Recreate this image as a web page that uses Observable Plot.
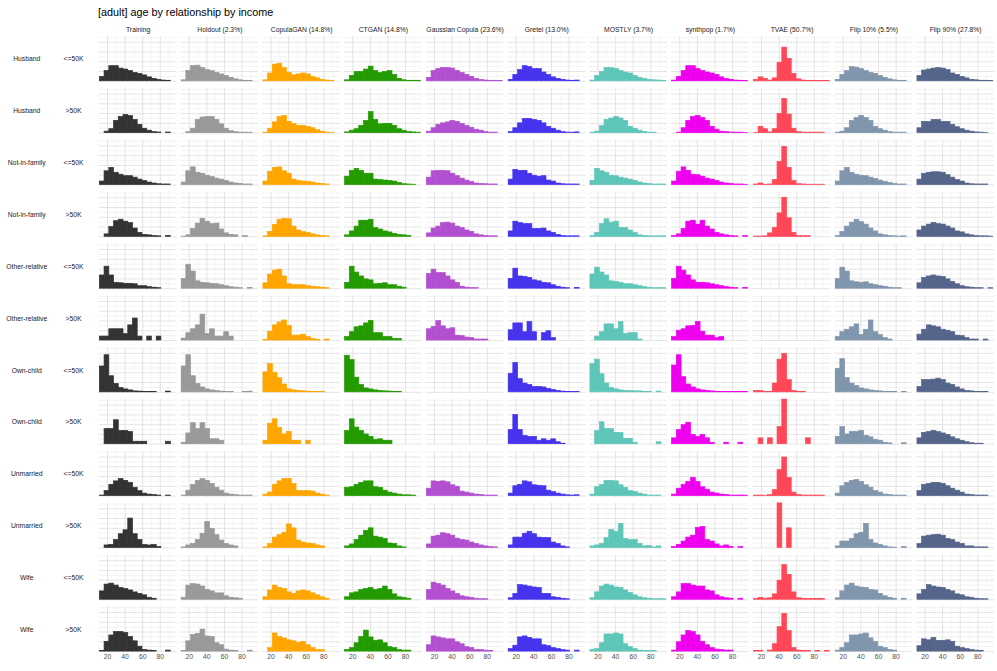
<!DOCTYPE html>
<html><head><meta charset="utf-8">
<script src="https://cdn.jsdelivr.net/npm/d3@7"></script>
<script src="https://cdn.jsdelivr.net/npm/@observablehq/plot@0.6"></script>
<style>
body{margin:0;background:#fff;overflow:hidden;font-family:"Liberation Sans",Arial,sans-serif;}
#wrap{position:relative;width:997px;height:671px;overflow:hidden;}
#title{position:absolute;left:98px;top:5px;font-size:10.8px;line-height:14px;color:#000;}
#chart{position:absolute;left:0;top:0;}
</style></head><body>
<div id="wrap"><div id="chart"></div><div id="title">[adult] age by relationship by income</div></div>
<script>
const models = ["Training","Holdout (2.3%)","CopulaGAN (14.8%)","CTGAN (14.8%)","Gaussian Copula (23.6%)","Gretel (13.0%)","MOSTLY (3.7%)","synthpop (1.7%)","TVAE (50.7%)","Flip 10% (5.5%)","Flip 90% (27.8%)"];
const modelColors = ["#333333","#999999","#ffa500","#239b00","#b24fd0","#4533ee","#5ec6b8","#ee00ee","#ff4757","#8096ad","#55648a"];
const relationships = ["Husband","Husband","Not-in-family","Not-in-family","Other-relative","Other-relative","Own-child","Own-child","Unmarried","Unmarried","Wife","Wife"];
const incomes = ["<=50K",">50K","<=50K",">50K","<=50K",">50K","<=50K",">50K","<=50K",">50K","<=50K",">50K"];
const ageBreaks = [11.3,16.7,22.1,27.4,32.8,38.2,43.6,49.0,54.3,59.7,65.1,70.5,75.9,81.2,86.6,92.0,97.4];
const ageTicks = [20,40,60,80];
const ageMinorTicks = [30,50,70,90];
const densityMajor = [0,2,4,6,8];
const densityMinor = [1,3,5,7,9];

// estimated density (% per year) in each age bin, one row per relationship x income facet
const training = [
[0.9,2.1,3.1,3.1,2.6,2.4,2.1,1.7,1.5,1.2,0.8,0.5,0.3,0.15,0.1,0],
[0,0.3,0.8,2.5,3.3,3.7,3.5,2.7,1.7,0.9,0.5,0.2,0.13,0,0.13,0],
[0.7,2.8,3.5,2.5,2.1,1.8,1.8,1.5,1.1,0.8,0.5,0.3,0.15,0.1,0.1,0],
[0,0.5,2.0,3.2,3.5,3.1,2.8,1.7,0.8,0.4,0.3,0.15,0.1,0,0.15,0],
[2.7,4.5,2.7,1.2,1.1,1.0,1.0,0.9,0.5,0.5,0.3,0.2,0.1,0,0,0],
[0.8,0.8,2.3,2.3,2.3,1.3,3.1,4.5,0.8,0,0.8,0,0.8,0,0,0],
[5.3,7.6,3.3,1.7,0.9,0.6,0.4,0.2,0.15,0.1,0.05,0.05,0,0,0.15,0],
[0,3.1,3.1,4.9,2.7,2.7,2.5,0.5,0.5,0.5,0,0,0,0,0.5,0],
[0.1,1.0,2.3,3.0,3.5,3.1,2.7,1.7,1.0,0.5,0.3,0.2,0.1,0,0.1,0],
[0,0.5,0.6,1.6,2.8,3.6,6.0,2.8,1.6,0.6,0.5,0.6,0.2,0,0,0],
[1.7,3.1,3.3,2.9,2.4,2.2,1.9,1.5,1.2,0.9,0.4,0.2,0,0,0,0],
[0.1,2.0,3.3,4.0,4.0,3.8,3.0,2.1,1.0,0.3,0.2,0.1,0,0,0.2,0]];
const holdout = [
[0.2,2.1,3.1,3.2,2.7,2.3,2.1,1.7,1.4,1.1,0.7,0.4,0.2,0.1,0.05,0],
[0,0.2,0.9,2.7,3.2,3.3,3.3,2.7,1.8,0.9,0.4,0.2,0.1,0.1,0.1,0],
[0.5,2.8,3.6,2.5,2.3,1.9,1.6,1.3,1.1,0.8,0.5,0.3,0.2,0.1,0.1,0],
[0.05,0.3,1.6,2.7,3.7,3.1,2.6,2.7,1.5,0.7,0.4,0.3,0,0.15,0,0],
[2.0,4.9,3.5,1.5,1.2,1.1,1.0,0.9,0.7,0.5,0.3,0.2,0.1,0,0.15,0],
[0.4,1.5,2.3,3.1,5.3,1.3,2.3,0.8,0.8,1.7,0.8,0,0,0,0,0],
[5.3,7.6,3.3,1.7,1.0,0.6,0.4,0.3,0.15,0.1,0.05,0,0,0.1,0.15,0],
[0.3,2.2,4.3,3.1,4.3,3.1,1.0,1.0,0.7,0,0,0,0,0,0,0],
[0.1,1.1,2.3,3.1,3.5,3.1,2.5,1.7,1.1,0.5,0.3,0.2,0.1,0.1,0.1,0],
[0.1,0.5,0.8,1.6,2.9,5.3,3.9,2.6,1.5,0.8,0.5,0.3,0,0,0,0],
[0.4,2.9,3.2,3.1,2.7,2.0,1.7,1.3,1.3,0.7,0.4,0.3,0.2,0,0,0],
[0.1,2.1,3.4,3.6,4.5,3.1,3.0,1.7,1.3,0.4,0.2,0.1,0,0,0.2,0]];
const copulaGAN = [
[0.2,1.6,3.4,3.6,2.7,1.7,1.2,1.4,1.6,1.4,0.9,0.6,0.3,0.15,0.05,0],
[0.1,0.9,2.2,3.3,3.5,2.3,1.9,1.5,1.5,1.3,1.0,0.6,0.3,0.1,0.05,0],
[0.7,2.7,3.5,3.6,2.8,2.3,1.1,0.8,0.7,0.6,0.5,0.3,0.2,0.1,0,0],
[0.1,1.0,2.4,3.5,3.7,3.6,2.1,1.3,1.0,0.8,0.5,0.3,0.15,0.1,0,0],
[1.1,2.9,3.7,3.9,2.5,0.9,0.7,0.7,0.7,0.5,0.4,0.3,0.2,0.1,0,0],
[0.1,1.8,3.1,3.7,4.1,3.0,1.0,1.0,1.2,0.7,0.3,0.1,0,0.2,0,0],
[4.1,5.8,4.0,2.9,1.6,0.6,0.4,0.3,0.2,0.15,0.1,0.1,0.05,0,0,0],
[0.7,4.2,5.1,3.3,2.0,2.5,0.7,0.7,0,0.7,0,0,0,0,0,0],
[0.3,0.7,2.3,3.0,3.5,3.5,2.5,1.0,1.0,1.0,0.9,0.5,0.3,0.1,0,0],
[0.1,0.8,2.1,2.6,3.1,4.8,4.0,1.5,1.1,0.9,0.8,0.5,0.3,0,0,0],
[0.5,1.9,2.9,2.4,2.2,1.5,1.2,1.7,1.9,1.7,1.3,0.9,0.5,0.2,0,0],
[0,0.7,3.7,3.0,2.7,2.3,2.1,1.8,2.0,1.3,0.7,0.3,0.3,0,0,0]];
const ctgan = [
[0.2,1.1,1.9,1.9,2.4,3.0,2.1,1.7,1.9,2.1,1.3,0.5,0.2,0.1,0.1,0.1],
[0.15,0.5,0.8,1.5,2.5,4.3,2.7,1.8,1.9,1.9,1.5,0.8,0.5,0.2,0.15,0.1],
[1.7,2.9,3.3,2.9,2.3,2.3,1.1,1.0,0.9,0.8,0.7,0.4,0.15,0.1,0.05,0],
[0.3,1.1,2.1,3.3,3.3,3.5,1.8,1.5,1.1,0.9,0.6,0.4,0.3,0.15,0,0],
[1.2,4.5,3.3,2.5,1.9,1.7,0.9,1.0,1.1,0.7,0.7,0.4,0.2,0,0,0],
[0.7,1.7,2.7,2.9,3.5,4.0,1.5,1.5,0.7,0.7,0.3,0.3,0,0,0,0],
[7.5,6.6,3.0,1.5,0.8,0.6,0.4,0.3,0.2,0.15,0.1,0.1,0,0,0,0],
[2.7,5.1,3.4,2.7,2.0,1.5,0.9,1.0,0.7,0.7,0,0,0,0,0,0],
[1.7,1.8,2.3,2.7,3.0,3.0,1.8,1.7,1.1,0.7,0.5,0.3,0.15,0.15,0.1,0],
[0.3,0.7,1.6,2.5,3.5,4.0,2.3,2.1,1.8,0.9,0.8,0.3,0.1,0,0,0],
[0.5,1.3,1.5,2.0,2.2,2.4,2.0,2.2,2.7,2.0,1.1,0.5,0.4,0.2,0,0],
[0.3,0.7,1.7,3.0,4.3,2.9,2.2,2.3,1.7,0.9,0.7,0.3,0.2,0.2,0,0]];
const gaussianCopula = [
[0.7,2.1,2.5,2.7,2.7,2.6,2.1,1.7,1.3,0.9,0.5,0.3,0.15,0.1,0.1,0.05],
[0.3,1.0,1.7,2.0,2.2,2.5,2.3,1.9,1.5,1.1,0.7,0.5,0.2,0.1,0.1,0],
[1.5,2.8,2.9,2.9,2.8,2.3,1.8,1.3,0.9,0.6,0.3,0.2,0.15,0.1,0.1,0],
[0.7,1.7,2.1,2.8,2.9,2.7,2.1,1.8,1.3,1.0,0.5,0.3,0.15,0.1,0.1,0],
[3.0,3.9,3.2,3.2,2.5,1.7,1.2,0.4,0.2,0.1,0.1,0,0,0,0,0],
[2.3,2.8,4.0,2.9,2.3,2.5,1.0,0.9,0.6,0.5,0.2,0.2,0.2,0,0,0],
[0,0,0,0,0,0,0,0,0,0,0,0,0,0,0,0],
[0,0,0,0,0,0,0,0,0,0,0,0,0,0,0,0],
[1.5,3.0,2.9,3.0,2.8,2.2,1.9,0.9,0.7,0.5,0.3,0.2,0.1,0.1,0.1,0],
[0.7,2.3,2.5,3.0,2.8,2.5,1.9,1.6,1.5,1.1,0.8,0.5,0.3,0.15,0.1,0],
[2.0,3.5,3.2,2.9,2.2,1.7,1.2,0.7,0.5,0.4,0.2,0.1,0.1,0,0,0],
[1.3,3.1,2.9,2.7,2.5,2.5,1.9,1.5,0.9,0.7,0.3,0.3,0.2,0.1,0,0]];
const gretel = [
[0.3,1.3,2.3,3.1,2.9,2.5,2.5,1.8,1.3,0.8,0.5,0.3,0.15,0.1,0.15,0],
[0.2,1.0,2.0,2.9,2.9,2.7,2.5,2.0,1.3,0.9,0.5,0.2,0.1,0.1,0.15,0],
[1.1,3.1,2.9,2.9,2.3,1.9,1.7,1.8,0.9,0.7,0.3,0.15,0.1,0.1,0.1,0],
[1.1,3.1,2.8,2.6,2.6,1.6,1.6,1.7,1.1,0.8,0.4,0.15,0.1,0.1,0.1,0],
[2.0,4.1,2.5,2.4,2.2,1.7,1.5,1.2,1.1,0.7,0.4,0.2,0.1,0,0.15,0],
[2.1,3.5,3.5,1.7,3.8,1.7,0,1.5,1.9,0.5,0,0,0,0,0,0],
[3.8,6.0,2.7,1.8,1.5,1.1,1.1,1.0,0.7,0.5,0.3,0.15,0.05,0.05,0.1,0],
[2.9,6.0,2.9,1.7,1.5,1.5,0.7,1.0,0.7,1.0,0.4,0.1,0,0,0,0],
[0.5,2.0,2.3,3.0,2.8,2.2,2.1,2.0,1.1,0.8,0.5,0.3,0.15,0.1,0.15,0],
[0.5,2.1,2.1,2.9,3.3,2.8,2.1,2.0,2.0,1.1,0.8,0.3,0.1,0,0,0],
[0.3,1.2,3.0,2.9,2.7,2.5,2.4,1.2,1.2,0.5,0.4,0.2,0.1,0,0,0],
[0.5,1.2,2.9,3.1,2.8,2.5,2.5,1.3,1.1,0.7,0.5,0.3,0.2,0,0.2,0]];
const mostly = [
[0.15,1.1,1.9,2.7,2.7,2.5,2.1,1.8,1.6,1.1,0.7,0.5,0.3,0.2,0.15,0.1],
[0.1,0.3,1.5,2.7,3.0,3.3,3.0,2.5,1.3,0.9,0.5,0.2,0.1,0.1,0,0],
[0.8,3.3,2.8,2.5,1.9,1.8,1.5,1.3,1.1,0.8,0.5,0.3,0.2,0.1,0.1,0.1],
[0.15,0.8,2.6,3.6,2.9,3.1,1.8,1.8,1.3,0.8,0.3,0.15,0.1,0.1,0.1,0.1],
[2.9,4.3,3.3,2.7,1.5,1.4,1.2,0.9,0.9,0.7,0.5,0.3,0.2,0.1,0.1,0.1],
[0,0.8,1.7,3.3,3.3,2.3,3.8,1.3,1.5,1.5,0.2,0,0,0,0,0],
[5.8,6.7,3.7,1.8,0.9,0.6,0.4,0.3,0.3,0.2,0.2,0.1,0.1,0,0.15,0],
[0,2.7,4.5,3.1,3.1,2.3,2.3,1.1,1.1,0.3,0,0,0,0,0.4,0],
[0.3,1.8,2.3,3.1,3.1,3.0,2.2,1.7,1.0,0.8,0.5,0.3,0.1,0.1,0.1,0],
[0.3,0.5,0.8,2.0,3.7,3.3,4.9,1.8,1.6,1.6,0.8,0.3,0.4,0.1,0.3,0],
[0.3,1.5,2.7,3.1,2.9,2.5,2.4,1.9,1.4,0.9,0.5,0.3,0.2,0.1,0.1,0.1],
[0.3,0.5,1.7,3.5,3.5,3.7,3.5,1.5,0.9,0.5,0.2,0.1,0.1,0.1,0,0]];
const synthpop = [
[0.15,0.9,2.1,3.1,3.1,2.5,2.1,1.8,1.6,1.3,0.8,0.5,0.3,0.15,0.1,0.05],
[0,0.1,1.0,2.5,3.3,3.5,3.1,2.5,1.3,0.7,0.3,0.2,0.1,0.1,0.1,0.05],
[0.7,2.7,3.6,2.9,2.1,2.0,1.7,1.3,1.1,0.8,0.5,0.3,0.2,0.1,0.1,0.05],
[0.15,0.5,1.6,3.1,3.3,2.5,3.3,2.1,1.5,0.8,0.5,0.3,0.15,0.1,0,0.15],
[2.0,4.5,3.7,2.7,1.7,1.2,1.2,1.1,0.9,0.7,0.5,0.3,0.2,0.1,0,0.15],
[0.7,2.0,2.3,2.9,3.0,3.8,1.8,1.0,1.0,0.5,0.7,0,0,0,0,0],
[5.5,7.6,3.1,1.6,1.0,0.6,0.4,0.3,0.2,0.1,0.1,0.1,0.05,0.05,0.1,0.1],
[1.2,2.9,3.9,4.4,1.9,1.5,1.9,1.2,0.3,0,0,0.3,0,0,0.3,0],
[0.3,1.5,2.3,2.9,3.7,2.9,1.8,1.3,0.7,0.5,0.3,0.2,0.1,0.1,0.1,0.1],
[0.2,0.6,1.3,2.1,2.5,4.1,4.3,1.6,1.3,0.7,0.3,0.5,0.2,0,0.15,0],
[0.5,1.5,3.2,3.2,2.9,2.7,2.7,1.9,1.7,0.9,0.5,0.3,0.2,0,0.2,0],
[0.2,1.9,3.3,4.2,4.0,3.3,2.0,1.3,0.7,0.4,0.3,0.2,0.2,0,0,0]];
const tvae = [
[0.3,0.8,0.5,0.15,0.6,3.8,6.9,4.6,1.5,0.4,0.15,0.1,0.05,0.05,0.05,0.05],
[0.05,1.3,0.8,0.15,0.8,3.9,7.0,3.8,0.9,0.2,0.1,0.1,0.1,0.1,0.1,0],
[0.1,0.3,0.05,0.1,1.0,4.7,7.8,3.5,0.8,0.15,0.1,0.05,0.05,0.05,0.05,0],
[0.05,0.05,0.1,0.7,1.8,4.8,8.0,3.8,0.8,0.15,0.1,0.15,0,0,0,0],
[0,0,0,0,0,0,0,0,0,0,0,0,0,0,0,0],
[0,0,0,0,0,0,0,0,0,0,0,0,0,0,0,0],
[0.3,0.3,0.1,0.1,1.8,6.7,7.9,2.5,0.3,0.1,0.05,0,0,0,0,0],
[0,1.2,0,1.2,0,3.5,11,0,0,0,0,1.2,0,0,0,0],
[0.1,0.1,0.05,0.2,1.2,5.3,7.9,3.7,0.7,0.2,0.1,0.1,0.1,0.1,0.1,0],
[0,0,0,0,0,12,0,4.0,0,0,0,0,0,0,0,0],
[0.15,0.4,0.2,0.3,1.1,3.9,7.1,5.1,1.5,0.3,0.2,0.15,0.15,0.15,0.15,0],
[0.15,0.15,0,0.2,1.5,5.0,7.7,4.2,0.7,0.2,0.15,0.15,0,0.15,0,0.15]];
const flip10 = [
[0.3,1.3,2.1,2.9,2.8,2.5,2.1,1.7,1.5,1.1,0.7,0.4,0.2,0.1,0.1,0],
[0.1,0.3,1.0,2.5,3.1,3.5,3.1,2.5,1.3,0.8,0.5,0.2,0.1,0.1,0.1,0],
[0.7,2.8,3.5,2.5,2.1,1.9,1.8,1.5,1.2,0.9,0.6,0.4,0.2,0.1,0.1,0],
[0.15,1.0,2.1,2.9,3.5,3.0,2.5,1.7,1.1,0.5,0.3,0.15,0.1,0.05,0.1,0],
[2.0,4.3,3.5,1.5,1.3,1.2,1.3,0.9,0.7,0.5,0.4,0.2,0.1,0.1,0,0],
[0.7,1.7,2.2,2.7,3.3,1.1,2.2,4.1,1.7,1.1,0.5,0.2,0,0,0,0],
[4.8,6.8,2.9,1.8,1.3,0.8,0.6,0.4,0.3,0.2,0.1,0.05,0.05,0,0.1,0],
[1.5,3.5,2.0,2.5,2.5,2.7,1.7,1.4,0.9,0.7,0.3,0.15,0,0,0.2,0],
[0.5,2.0,2.7,3.1,3.3,2.9,2.2,1.7,1.0,0.7,0.3,0.2,0.1,0.1,0.1,0],
[0.3,1.3,1.3,1.8,2.8,3.1,4.9,1.6,0.9,0.6,0.3,0.1,0.05,0,0.15,0],
[0.3,1.7,2.9,3.3,2.7,2.5,2.4,2.0,1.9,1.2,0.7,0.4,0.2,0,0.2,0],
[0.2,0.7,1.7,3.3,3.3,3.5,3.7,2.7,2.0,1.0,0.7,0.3,0.2,0,0,0]];
const flip90 = [
[1.1,2.2,2.4,2.6,2.7,2.6,2.3,1.6,1.3,0.9,0.6,0.3,0.2,0.1,0.1,0.05],
[1.0,2.3,2.3,2.7,2.7,2.3,2.3,1.7,1.2,0.8,0.5,0.3,0.15,0.1,0.05,0],
[1.1,2.3,2.5,2.6,2.6,2.5,2.0,1.5,1.0,0.7,0.3,0.15,0.1,0.1,0.1,0],
[1.3,2.1,2.5,2.8,2.6,2.5,2.1,1.7,1.1,0.9,0.5,0.3,0.15,0.1,0.1,0.05],
[1.1,2.2,2.5,2.7,2.5,2.4,1.9,1.4,0.9,0.5,0.3,0.2,0.1,0.1,0,0.1],
[1.2,2.2,3.1,2.9,2.7,2.2,2.0,1.7,1.0,0.9,0.5,0.2,0.2,0,0.2,0],
[1.1,2.5,2.5,2.6,2.8,2.5,1.8,1.5,1.0,0.6,0.3,0.2,0.1,0.1,0.05,0],
[1.2,2.3,2.5,2.7,2.5,2.2,1.9,1.4,1.0,0.7,0.4,0.2,0.1,0.1,0,0],
[1.0,2.3,2.5,2.7,2.7,2.5,2.0,1.5,1.1,0.7,0.3,0.2,0.1,0.1,0.1,0],
[0.8,2.3,2.5,2.6,2.7,2.5,1.8,1.6,1.1,0.8,0.3,0.3,0.1,0.1,0.1,0],
[1.1,2.0,3.0,2.7,2.5,2.4,2.0,1.7,1.1,0.9,0.5,0.4,0.2,0.1,0.1,0],
[1.1,2.5,2.3,2.8,2.2,2.2,2.3,2.0,1.0,0.7,0.5,0.3,0.2,0.1,0,0]];

const seriesByModel = [training, holdout, copulaGAN, ctgan, gaussianCopula, gretel, mostly, synthpop, tvae, flip10, flip90];

const bars = [];
seriesByModel.forEach((rows, m) => rows.forEach((vals, r) => vals.forEach((v, b) => {
  if (v > 0) bars.push({model: models[m], row: r, x1: ageBreaks[b], x2: ageBreaks[b + 1], v, color: modelColors[m]});
})));
const cells = models.flatMap(model => relationships.map((_, row) => ({model, row})));
const gridOf = (ticks, key) => cells.flatMap(c => ticks.map(t => ({...c, [key]: t})));
const rowLabels = relationships.map((rel, row) => ({row, rel, inc: incomes[row], col: models[0]}));

const chart = Plot.plot({
  width: 1000, height: 671,
  marginLeft: 97.7, marginRight: 1.3, marginTop: 34, marginBottom: 14,
  style: {fontFamily: "'Liberation Sans', Arial, sans-serif", fontSize: "6.8px", color: "#1a1a1a", background: "transparent"},
  color: {type: "identity"},
  x: {domain: [10.6, 98.9], ticks: ageTicks, tickSize: 0, tickPadding: 2, label: null},
  y: {domain: [-0.2, 9.2], axis: null},
  fx: {domain: models, axis: "top", label: null, tickSize: 0, tickPadding: 4, paddingInner: 0.052, paddingOuter: 0},
  fy: {domain: d3.range(relationships.length), axis: null, paddingInner: 0.11, paddingOuter: 0},
  marks: [
    Plot.ruleY(gridOf(densityMinor, "y"), {y: "y", fx: "model", fy: "row", stroke: "#eeeeee", strokeWidth: 0.7}),
    Plot.ruleY(gridOf(densityMajor, "y"), {y: "y", fx: "model", fy: "row", stroke: "#e4e4e4", strokeWidth: 1}),
    Plot.ruleX(gridOf(ageMinorTicks, "x"), {x: "x", fx: "model", fy: "row", stroke: "#f1f1f1", strokeWidth: 0.6}),
    Plot.ruleX(gridOf(ageTicks, "x"), {x: "x", fx: "model", fy: "row", stroke: "#e4e4e4", strokeWidth: 1}),
    Plot.rect(bars, {x1: "x1", x2: "x2", y1: 0, y2: "v", fx: "model", fy: "row", fill: "color", stroke: "color", strokeWidth: 0.7, clip: true}),
    Plot.text(rowLabels, {fx: "col", fy: "row", text: "rel", frameAnchor: "left", dx: -72.7, textAnchor: "middle", fill: "#1a1a1a"}),
    Plot.text(rowLabels, {fx: "col", fy: "row", text: "inc", frameAnchor: "left", dx: -25.7, textAnchor: "middle", fill: "#1a1a1a"})
  ]
});
document.getElementById("chart").appendChild(chart);
chart.querySelectorAll('[aria-label^="x-axis"] text').forEach(t => t.setAttribute("fill", "#4d4d4d"));
</script></body></html>
